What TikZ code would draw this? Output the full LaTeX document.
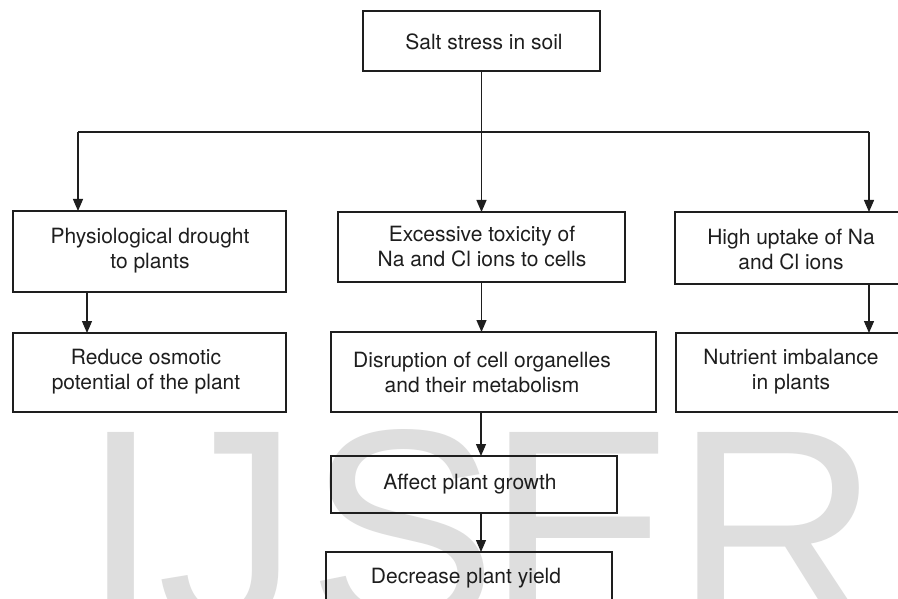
\documentclass[tikz,border=0pt]{standalone}
\usepackage{fontspec}
\setmainfont{TeX Gyre Heros}
\newfontfamily\wmfont{Liberation Sans}
\usetikzlibrary{arrows.meta}
\definecolor{wm}{HTML}{DEDEDE}
\definecolor{ink}{HTML}{1E1E1E}
\begin{document}
\begin{tikzpicture}[x=1pt,y=-1pt,
  boxnode/.style={draw=ink, line width=1.5pt, inner sep=0pt, outer sep=0pt, rectangle},
  txt/.style={text=ink, align=center, inner sep=0pt, font=\fontsize{21}{25}\selectfont},
  wmletter/.style={text=wm, inner sep=0pt, outer sep=0pt, anchor=base west, font=\wmfont\fontsize{285}{300}\selectfont},
  conn/.style={draw=ink, line width=1.3pt},
  arr/.style={conn, -{Triangle[length=12pt,width=10pt]}}]
\useasboundingbox (0,0) rectangle (898,599);
\clip (0,0) rectangle (898,599);
\fill[white] (0,0) rectangle (898,599);
% watermark
\node[wmletter] (wI) at (81,628) {I};
\node[wmletter] (wJ) at (157,628) {J};
\node[wmletter] (wS) at (307,628) {S};
\node[wmletter] (wE) at (486,628) {E};
\node[wmletter] (wR) at (674,628) {R};
% boxes
\node[boxnode, minimum width=237, minimum height=60] (top) at (481.5,41) {};
\node[boxnode, minimum width=273, minimum height=81] (l1) at (149.5,251.5) {};
\node[boxnode, minimum width=287, minimum height=70] (m1) at (481.5,247) {};
\node[boxnode, minimum width=230, minimum height=72] (r1) at (790,248) {};
\node[boxnode, minimum width=273, minimum height=79] (l2) at (149.5,372.5) {};
\node[boxnode, minimum width=325, minimum height=80] (m2) at (493.5,372) {};
\node[boxnode, minimum width=229, minimum height=79] (r2) at (790.5,372.5) {};
\node[boxnode, minimum width=286, minimum height=57] (aff) at (474,484.5) {};
\node[boxnode, minimum width=286, minimum height=73] (dec) at (469,588.5) {};
% texts
\node[txt] (ttop) at (484,42) {Salt stress in soil};
\node[txt] (tl1) at (150,251) {Physiological drought\\to plants};
\node[txt] (tm1) at (482,247) {Excessive toxicity of\\Na and Cl ions to cells};
\node[txt] (tr1) at (791,250) {High uptake of Na\\and Cl ions};
\node[txt] (tl2) at (146,372) {Reduce osmotic\\potential of the plant};
\node[txt] (tm2) at (482,372) {Disruption of cell organelles\\and their metabolism};
\node[txt] (tr2) at (791,372) {Nutrient imbalance\\in plants};
\node[txt] (taff) at (470,484) {Affect plant growth};
\node[txt] (tdec) at (466,578) {Decrease plant yield};
% connectors
\coordinate (jl) at (78,132);
\coordinate (jr) at (869,132);
\draw[conn] (jl) -- (jr);
\draw[arr] (top.south) -- (m1.north);
\draw[arr] (jl) -- (jl |- l1.north);
\draw[arr] (jr) -- (jr |- r1.north);
\draw[arr] ([xshift=-62.5pt]l1.south) -- ([xshift=-62.5pt]l2.north);
\draw[arr] (m1.south) -- (m1.south |- m2.north);
\draw[arr] ([xshift=79pt]r1.south) -- ([xshift=78.5pt]r2.north);
\draw[arr] ([xshift=-12.5pt]m2.south) -- ([xshift=7pt]aff.north);
\draw[arr] ([xshift=7pt]aff.south) -- ([xshift=12pt]dec.north);
\end{tikzpicture}
\end{document}
